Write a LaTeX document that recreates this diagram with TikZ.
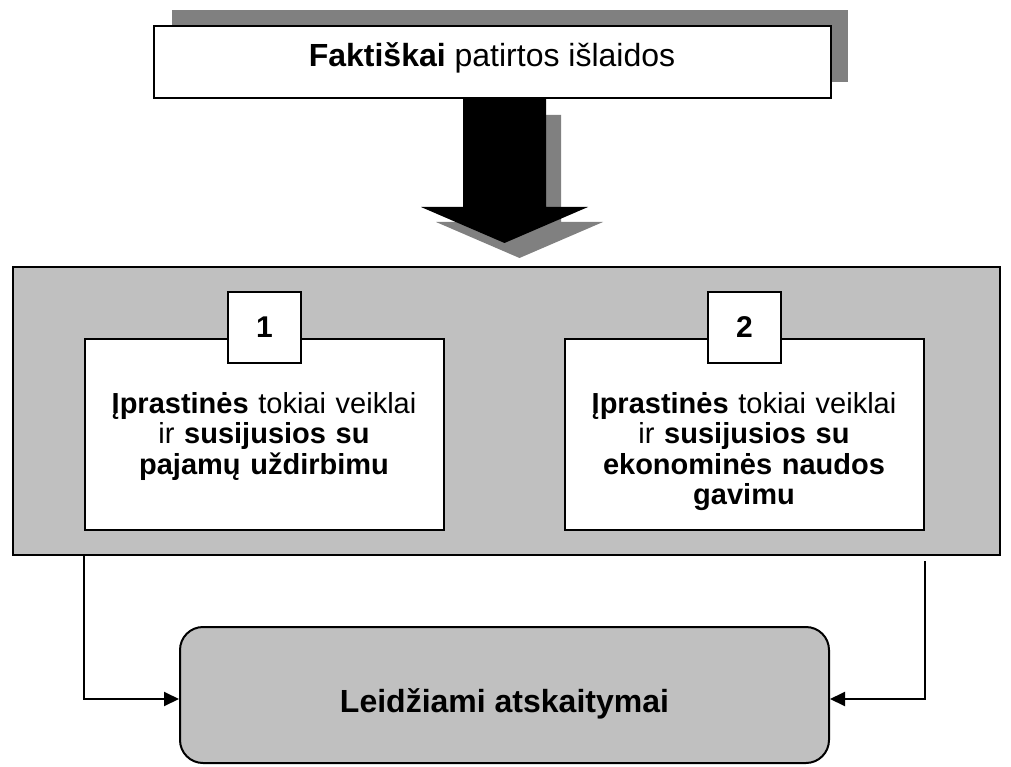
\documentclass[tikz,border=0pt]{standalone}
\usepackage{fontspec}
\setmainfont{Liberation Sans}
\usetikzlibrary{arrows.meta}
\definecolor{panelgray}{HTML}{C0C0C0}
\definecolor{shadowgray}{HTML}{808080}
\tikzset{
  whitebox/.style={draw=black, line width=2pt, fill=white, inner sep=0pt},
  graybox/.style={draw=black, line width=2pt, fill=panelgray, inner sep=0pt},
  boxtext/.style={align=center, text width=340pt, inner sep=0pt, anchor=north,
    font=\fontsize{29}{30.5}\selectfont},
  bigtext/.style={font=\fontsize{32}{34}\selectfont},
  numtext/.style={font=\fontsize{30}{32}\selectfont},
  conn/.style={draw=black, line width=2pt, -{Triangle[length=15pt,width=14pt]}},
}
\begin{document}
\begin{tikzpicture}[x=1pt,y=-1pt]
\useasboundingbox (0,0) rectangle (1011,767);
% top box shadow
\fill[shadowgray] (172,10) rectangle (848,82);
% big arrow shadow and arrow
\fill[shadowgray] (478,115) -- (561,115) -- (561,222) -- (603,222) -- (519.5,258) -- (436,222) -- (478,222) -- cycle;
\fill[black] (463,98) -- (546,98) -- (546,207) -- (588,207) -- (504.5,243) -- (421,207) -- (463,207) -- cycle;
% top box
\node[whitebox, minimum width=677pt, minimum height=72pt] (top) at (492,62) {};
\node[bigtext, anchor=base, inner sep=0pt] (toptext) at (492,67) {\textbf{Faktiškai} patirtos išlaidos};
% panel
\node[graybox, minimum width=987pt, minimum height=288pt] (panel) at (506,411) {};
% inner boxes
\node[whitebox, minimum width=359pt, minimum height=191pt] (box1) at (264,434.5) {};
\node[whitebox, minimum width=359pt, minimum height=191pt] (box2) at (744,434.5) {};
\node[whitebox, minimum width=73pt, minimum height=71pt, numtext] (num1) at (264.5,327) {\textbf{1}};
\node[whitebox, minimum width=73pt, minimum height=71pt, numtext] (num2) at (744.5,327) {\textbf{2}};
\node[boxtext] (t1) at (264,392) {\textbf{Įprastinės} tokiai veiklai\\ ir \textbf{susijusios su}\\ \textbf{pajamų uždirbimu}};
\node[boxtext] (t2) at (744,392) {\textbf{Įprastinės} tokiai veiklai\\ ir \textbf{susijusios su}\\ \textbf{ekonominės naudos}\\ \textbf{gavimu}};
% result box
\node[graybox, rounded corners=23pt, minimum width=649pt, minimum height=136pt] (res) at (504.5,695) {};
\node[bigtext, anchor=base, inner sep=0pt] (restext) at (504.5,712) {\textbf{Leidžiami atskaitymai}};
% connectors
\coordinate (lstart) at (box1.west |- panel.south);
\coordinate (rstart) at ([yshift=-5pt]box2.east |- panel.south);
\draw[conn] (lstart) |- ([yshift=-4pt]res.west);
\draw[conn] (rstart) |- ([yshift=-4pt]res.east);
\end{tikzpicture}
\end{document}
